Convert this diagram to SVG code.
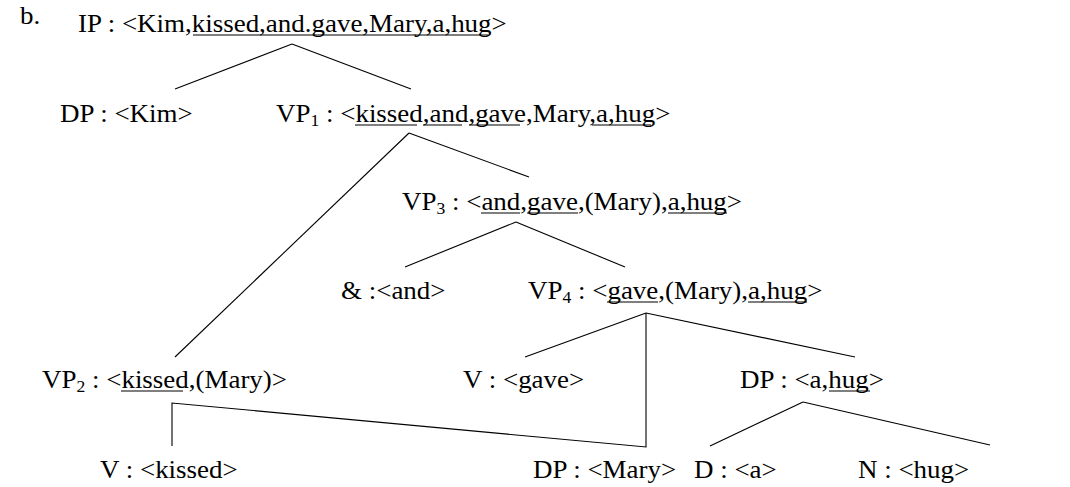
<svg xmlns="http://www.w3.org/2000/svg" width="1070" height="487" viewBox="0 0 1070 487">
<style>
text{font-family:"Liberation Serif","Times New Roman",serif;font-size:24.5px;fill:#000}
.s{font-size:16px}
.ul{stroke:#000;stroke-width:1.2}
#edges line,#edges polyline{stroke:#000;stroke-width:1.1;fill:none}
</style>
<rect width="1070" height="487" fill="#fff"/>
<g id="label-b"><text transform="translate(20,24) scale(1.1,1)">b.</text></g>
<g id="IP"><text transform="translate(78,32) scale(1.1,1)">IP : &lt;Kim,kissed,and.gave,Mary,a,hug&gt;</text>
<line class="ul" x1="193" y1="35" x2="488" y2="35"/></g>
<g id="DP-Kim"><text transform="translate(60,122) scale(1.1,1)">DP : &lt;Kim&gt;</text></g>
<g id="VP1"><text transform="translate(276,122) scale(1.1,1)">VP<tspan class="s" dy="4">1</tspan><tspan dy="-4"> : &lt;kissed,and,gave,Mary,a,hug&gt;</tspan></text>
<line class="ul" x1="355" y1="125" x2="417" y2="125"/>
<line class="ul" x1="423" y1="125" x2="462" y2="125"/>
<line class="ul" x1="469" y1="125" x2="520" y2="125"/>
<line class="ul" x1="592" y1="125" x2="651" y2="125"/></g>
<g id="VP3"><text transform="translate(402,210) scale(1.1,1)">VP<tspan class="s" dy="4">3</tspan><tspan dy="-4"> : &lt;and,gave,(Mary),a,hug&gt;</tspan></text>
<line class="ul" x1="481" y1="213" x2="520" y2="213"/>
<line class="ul" x1="527" y1="213" x2="578" y2="213"/>
<line class="ul" x1="668" y1="213" x2="727" y2="213"/></g>
<g id="Conj"><text transform="translate(341,299) scale(1.1,1)">&amp; :&lt;and&gt;</text></g>
<g id="VP4"><text transform="translate(528,299) scale(1.1,1)">VP<tspan class="s" dy="4">4</tspan><tspan dy="-4"> : &lt;gave,(Mary),a,hug&gt;</tspan></text>
<line class="ul" x1="607" y1="302" x2="658" y2="302"/>
<line class="ul" x1="748" y1="302" x2="807" y2="302"/></g>
<g id="VP2"><text transform="translate(42,388) scale(1.1,1)">VP<tspan class="s" dy="4">2</tspan><tspan dy="-4"> : &lt;kissed,(Mary)&gt;</tspan></text>
<line class="ul" x1="121" y1="391" x2="183" y2="391"/></g>
<g id="V-gave"><text transform="translate(463,388) scale(1.1,1)">V : &lt;gave&gt;</text></g>
<g id="DP-ahug"><text transform="translate(740,388) scale(1.1,1)">DP : &lt;a,hug&gt;</text>
<line class="ul" x1="829" y1="391" x2="870" y2="391"/></g>
<g id="V-kissed"><text transform="translate(100,478) scale(1.1,1)">V : &lt;kissed&gt;</text></g>
<g id="DP-Mary"><text transform="translate(533,478) scale(1.1,1)">DP : &lt;Mary&gt;</text></g>
<g id="D-a"><text transform="translate(694,478) scale(1.1,1)">D : &lt;a&gt;</text></g>
<g id="N-hug"><text transform="translate(858,478) scale(1.1,1)">N : &lt;hug&gt;</text></g>
<g id="edges">
<line x1="292" y1="44" x2="175" y2="89"/>
<line x1="292" y1="44" x2="411" y2="89"/>
<line x1="409" y1="133" x2="175" y2="357"/>
<line x1="409" y1="133" x2="529" y2="177"/>
<line x1="516" y1="222" x2="405" y2="267"/>
<line x1="516" y1="222" x2="625" y2="267"/>
<line x1="646" y1="313" x2="525" y2="357"/>
<line x1="646" y1="313" x2="855" y2="357"/>
<polyline points="172,446 172,403 646,447 646,313"/>
<line x1="803" y1="402" x2="710" y2="446"/>
<line x1="803" y1="402" x2="990" y2="445"/>
</g>
</svg>
